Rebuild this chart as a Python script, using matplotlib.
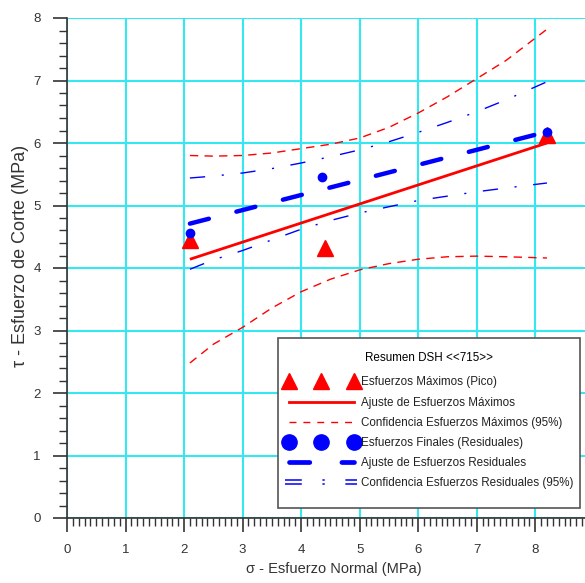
import matplotlib
matplotlib.use("Agg")
import matplotlib.pyplot as plt
from matplotlib.lines import Line2D
from matplotlib.patches import Rectangle
from matplotlib.legend_handler import HandlerBase
from matplotlib.ticker import MultipleLocator
from matplotlib.font_manager import FontProperties

plt.rcParams['font.family'] = ['Liberation Sans', 'DejaVu Sans']

# Data
peak_x = [2.1, 4.4, 8.2]
peak_y = [4.45, 4.32, 6.13]
resid_x = [2.1, 4.35, 8.2]
resid_y = [4.56, 5.46, 6.18]

fit_peak_x = [2.1, 8.2]
fit_peak_y = [4.14, 6.0]
fit_resid_x = [2.1, 8.2]
fit_resid_y = [4.71, 6.18]

band_x = [2.1, 2.5, 3.0, 3.5, 4.0, 4.5, 5.0, 5.5, 6.0, 6.5, 7.0, 7.5, 8.2]
red_upper = [5.80, 5.79, 5.80, 5.84, 5.91, 5.98, 6.08, 6.25, 6.48, 6.74, 7.03, 7.32, 7.82]
red_lower = [2.48, 2.78, 3.05, 3.36, 3.62, 3.82, 3.97, 4.07, 4.14, 4.18, 4.19, 4.18, 4.16]
blue_upper = [5.44, 5.47, 5.52, 5.59, 5.68, 5.78, 5.89, 6.02, 6.17, 6.33, 6.50, 6.69, 6.98]
blue_lower = [3.98, 4.13, 4.28, 4.45, 4.62, 4.76, 4.88, 4.98, 5.08, 5.15, 5.22, 5.28, 5.36]

legend_title = "Resumen DSH <<715>>"
labels = ["Esfuerzos Máximos (Pico)", "Ajuste de Esfuerzos Máximos",
          "Confidencia Esfuerzos Máximos (95%)", "Esfuerzos Finales (Residuales)",
          "Ajuste de Esfuerzos Residuales", "Confidencia Esfuerzos Residuales (95%)"]
xlabel = "σ - Esfuerzo Normal (MPa)"
ylabel = "τ - Esfuerzo de Corte (MPa)"

fig = plt.figure(figsize=(5.85, 5.83), dpi=100)
ax = fig.add_axes([67/585, 1-518/583, 1-67/585, 500/583])

red = '#ff0000'
blue = '#0000ff'
cyan = '#33e8f0'

ax.set_xlim(0, 8.85)
ax.set_ylim(0, 8)
ax.xaxis.set_major_locator(MultipleLocator(1))
ax.xaxis.set_minor_locator(MultipleLocator(0.1))
ax.yaxis.set_major_locator(MultipleLocator(1))
ax.yaxis.set_minor_locator(MultipleLocator(0.2))
ax.grid(True, which='major', color=cyan, lw=1.5, zorder=0)
ax.set_axisbelow(True)
for s in ['top', 'right']:
    ax.spines[s].set_visible(False)
for s in ['left', 'bottom']:
    ax.spines[s].set_color('#333333')
    ax.spines[s].set_linewidth(1.2)
ax.tick_params(which='major', direction='out', length=10, width=1.2, color='#333333',
               labelsize=9.5, labelcolor='#333333', pad=9)
ax.tick_params(which='minor', direction='out', length=6, width=1.0, color='#333333')

# confidence bands
ax.plot(band_x, red_upper, color=red, lw=1, dashes=[6, 4.5], zorder=3)
ax.plot(band_x, red_lower, color=red, lw=1, dashes=[6, 4.5], zorder=3)
ax.plot(band_x, blue_upper, color=blue, lw=1, dashes=[11, 12, 1.5, 12], zorder=3)
ax.plot(band_x, blue_lower, color=blue, lw=1, dashes=[11, 12, 1.5, 12], zorder=3)

# fits
ax.plot(fit_peak_x, fit_peak_y, color=red, lw=2, solid_capstyle='butt', zorder=4)
ax.plot(fit_resid_x, fit_resid_y, color=blue, lw=3.2, dashes=[4.4, 6.4],
        dash_capstyle='round', zorder=4)

# points
ax.plot(peak_x, peak_y, ls='none', marker='^', color=red, ms=11, zorder=5)
ax.plot(resid_x, resid_y, ls='none', marker='o', color=blue, ms=6, zorder=6)

fig.text(334/585, 1-569/583, xlabel, fontsize=10.5, color='#333333',
         ha='center', va='center')
fig.text(21/585, 1-256/583, ylabel, fontsize=13, color='#333333',
         ha='center', va='center', rotation=90)


class DoubleLineHandler(HandlerBase):
    def create_artists(self, legend, orig_handle, xdescent, ydescent, width,
                       height, fontsize, trans):
        y = height / 2 - ydescent
        arts = []
        for dy in (-1.6, 1.6):
            ln = Line2D([-xdescent, -xdescent + width], [y + dy, y + dy],
                        color=orig_handle.get_color(), lw=orig_handle.get_linewidth(),
                        dashes=[11, 13.5, 1.5, 13.5])
            ln.set_transform(trans)
            arts.append(ln)
        return arts


blue_conf_handle = Line2D([], [], color=blue, lw=1.1)

handles = [
    Line2D([], [], ls='none', marker='^', color=red, ms=12),
    Line2D([], [], color=red, lw=2),
    Line2D([], [], color=red, lw=1, dashes=[5, 5]),
    Line2D([], [], ls='none', marker='o', color=blue, ms=11),
    Line2D([], [], color=blue, lw=3.4, dashes=[4.3, 6.8], dash_capstyle='round'),
    blue_conf_handle,
]

# legend frame box
frame = Rectangle((278/585, 1-508/583), (580-278)/585, (508-338)/583,
                  transform=fig.transFigure, facecolor='white', edgecolor='#555555',
                  lw=1.2, zorder=9, clip_on=False)
ax.add_artist(frame)

leg_font = FontProperties(family=['Liberation Sans', 'DejaVu Sans'], size=8.4)
leg = ax.legend(handles, labels, title=legend_title, loc='upper left',
                bbox_to_anchor=(285/585, 1-352/583), bbox_transform=fig.transFigure,
                numpoints=3, handlelength=6.2, handletextpad=0.3, prop=leg_font,
                frameon=False, labelspacing=0.70, borderpad=0, borderaxespad=0,
                handler_map={blue_conf_handle: DoubleLineHandler()})
leg.get_title().set_fontproperties(leg_font)
leg._legend_box.sep = 9
for t in leg.get_texts():
    t.set_color('#222222')
leg.set_zorder(10)

fig.savefig("out.png", dpi=100)
